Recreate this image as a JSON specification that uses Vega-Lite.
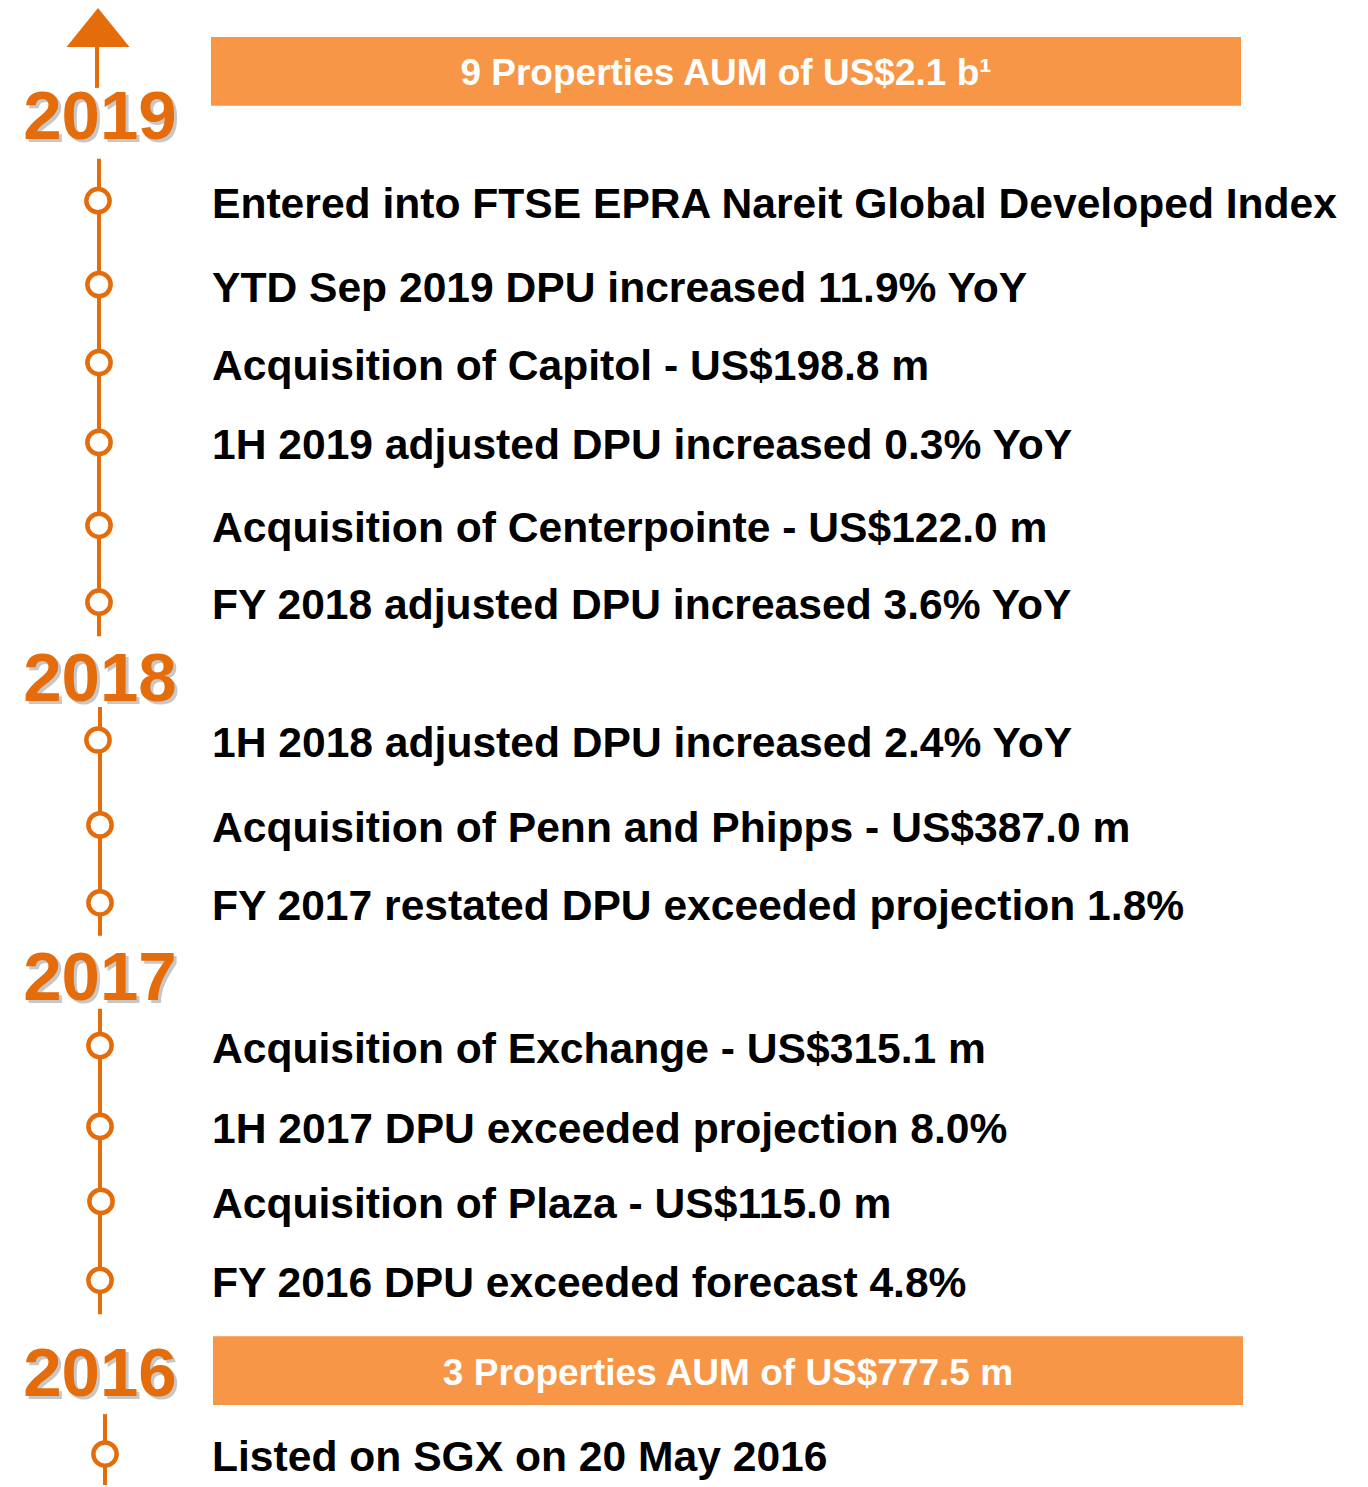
{
  "$schema": "https://vega.github.io/schema/vega-lite/v6.json",
  "autosize": {"type": "fit", "contains": "padding"},
  "width": 1368,
  "height": 1487,
  "padding": 0,
  "background": "white",
  "config": {"view": {"stroke": null}},
  "datasets": {
    "items": [
      {"label": "Entered into FTSE EPRA Nareit Global Developed Index", "x": 98, "y": 201},
      {"label": "YTD Sep 2019 DPU increased 11.9% YoY", "x": 99, "y": 285},
      {"label": "Acquisition of Capitol - US$198.8 m", "x": 99, "y": 363},
      {"label": "1H 2019 adjusted DPU increased 0.3% YoY", "x": 99, "y": 443},
      {"label": "Acquisition of Centerpointe - US$122.0 m", "x": 99, "y": 526},
      {"label": "FY 2018 adjusted DPU increased 3.6% YoY", "x": 99, "y": 603},
      {"label": "1H 2018 adjusted DPU increased 2.4% YoY", "x": 98, "y": 741},
      {"label": "Acquisition of Penn and Phipps - US$387.0 m", "x": 100, "y": 826},
      {"label": "FY 2017 restated DPU exceeded projection 1.8%", "x": 100, "y": 904},
      {"label": "Acquisition of Exchange - US$315.1 m", "x": 100, "y": 1047},
      {"label": "1H 2017 DPU exceeded projection 8.0%", "x": 100, "y": 1128},
      {"label": "Acquisition of Plaza - US$115.0 m", "x": 101, "y": 1203},
      {"label": "FY 2016 DPU exceeded forecast 4.8%", "x": 100, "y": 1282},
      {"label": "Listed on SGX on 20 May 2016", "x": 105, "y": 1456}
    ],
    "years": [
      {"year": "2019", "x": 100, "y": 118},
      {"year": "2018", "x": 100, "y": 681},
      {"year": "2017", "x": 100, "y": 980},
      {"year": "2016", "x": 100, "y": 1377}
    ],
    "segments": [
      {"x": 97, "y": 40, "y2": 88},
      {"x": 99, "y": 159, "y2": 637},
      {"x": 100, "y": 708, "y2": 937},
      {"x": 100, "y": 1010, "y2": 1316},
      {"x": 105, "y": 1416, "y2": 1487}
    ],
    "banners": [
      {"text": "9 Properties AUM of US$2.1 b¹", "x": 211, "x2": 1241, "y": 37, "y2": 106},
      {"text": "3 Properties AUM of US$777.5 m", "x": 213, "x2": 1243, "y": 1338, "y2": 1407}
    ],
    "arrow": [{"x": 98, "y": 27.5}]
  },
  "layer": [
    {
      "data": {"name": "segments"},
      "mark": {"type": "rule", "color": "#E46C0A", "strokeWidth": 4},
      "encoding": {
        "x": {"field": "x", "type": "quantitative", "scale": {"domain": [0, 1368], "nice": false, "zero": false}, "axis": null},
        "y": {"field": "y", "type": "quantitative", "scale": {"domain": [0, 1487], "nice": false, "zero": false, "reverse": true}, "axis": null},
        "y2": {"field": "y2"}
      }
    },
    {
      "data": {"name": "arrow"},
      "mark": {"type": "point", "shape": "M0,-0.62L-1,0.62L1,0.62Z", "filled": true, "color": "#E46C0A", "size": 3969, "opacity": 1},
      "encoding": {
        "x": {"field": "x", "type": "quantitative"},
        "y": {"field": "y", "type": "quantitative"}
      }
    },
    {
      "data": {"name": "banners"},
      "mark": {"type": "rect", "color": "#F79646"},
      "encoding": {
        "x": {"field": "x", "type": "quantitative"},
        "x2": {"field": "x2"},
        "y": {"field": "y", "type": "quantitative"},
        "y2": {"field": "y2"}
      }
    },
    {
      "data": {"name": "banners"},
      "transform": [
        {"calculate": "(datum.x + datum.x2) / 2", "as": "cx"},
        {"calculate": "(datum.y + datum.y2) / 2", "as": "cy"}
      ],
      "mark": {"type": "text", "color": "white", "font": "Liberation Sans", "fontWeight": "bold", "fontSize": 37, "align": "center", "baseline": "middle", "dy": 3},
      "encoding": {
        "x": {"field": "cx", "type": "quantitative"},
        "y": {"field": "cy", "type": "quantitative"},
        "text": {"field": "text"}
      }
    },
    {
      "data": {"name": "years"},
      "mark": {"type": "text", "color": "#9a9a9a", "opacity": 0.55, "font": "Liberation Sans", "fontWeight": "bold", "fontSize": 69, "align": "center", "baseline": "middle", "dx": 3, "dy": 3},
      "encoding": {
        "x": {"field": "x", "type": "quantitative"},
        "y": {"field": "y", "type": "quantitative"},
        "text": {"field": "year"}
      }
    },
    {
      "data": {"name": "years"},
      "mark": {"type": "text", "color": "#E46C0A", "font": "Liberation Sans", "fontWeight": "bold", "fontSize": 69, "align": "center", "baseline": "middle"},
      "encoding": {
        "x": {"field": "x", "type": "quantitative"},
        "y": {"field": "y", "type": "quantitative"},
        "text": {"field": "year"}
      }
    },
    {
      "data": {"name": "items"},
      "mark": {"type": "point", "shape": "circle", "filled": true, "fill": "white", "stroke": "#E46C0A", "strokeWidth": 4.5, "size": 540, "opacity": 1},
      "encoding": {
        "x": {"field": "x", "type": "quantitative"},
        "y": {"field": "y", "type": "quantitative"}
      }
    },
    {
      "data": {"name": "items"},
      "mark": {"type": "text", "color": "black", "font": "Liberation Sans", "fontWeight": "bold", "fontSize": 42.6, "align": "left", "baseline": "middle", "dy": 4},
      "encoding": {
        "x": {"datum": 212, "type": "quantitative"},
        "y": {"field": "y", "type": "quantitative"},
        "text": {"field": "label"}
      }
    }
  ]
}
